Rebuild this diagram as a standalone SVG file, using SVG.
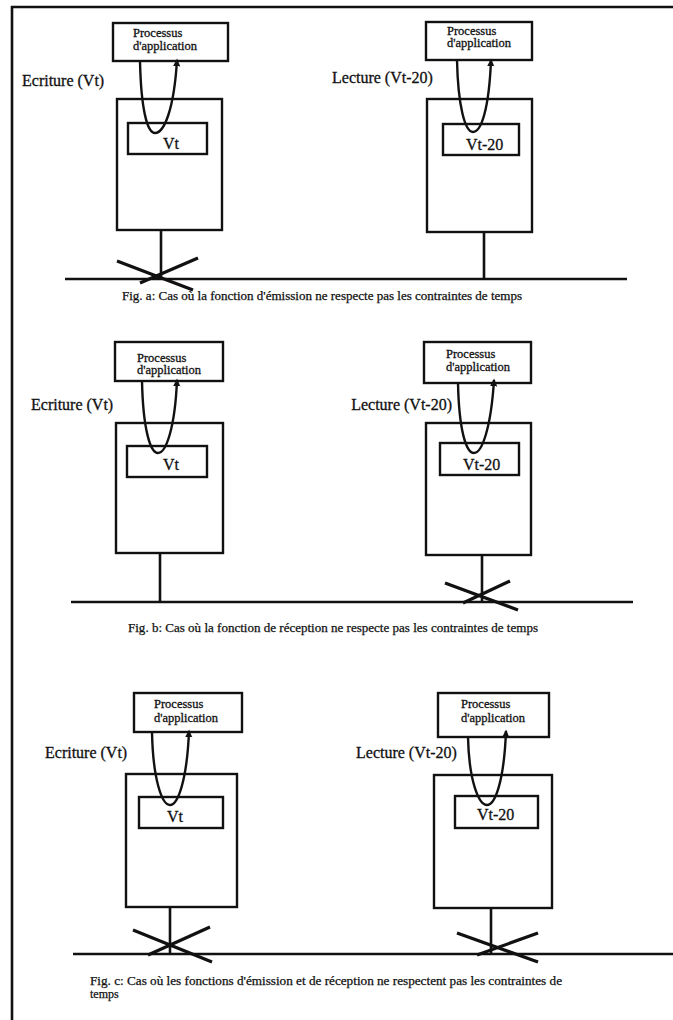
<svg xmlns="http://www.w3.org/2000/svg" width="673" height="1020" viewBox="0 0 673 1020">
<style>
.bx{fill:none;stroke:#111;stroke-width:2.4}
.ln{fill:none;stroke:#111;stroke-width:2.6}
.xl{fill:none;stroke:#111;stroke-width:3.2;stroke-linecap:butt}
.lp{fill:none;stroke:#111;stroke-width:2.4;marker-end:url(#ah)}
.t{font-family:"Liberation Serif","Times New Roman",serif;fill:#111;stroke:#111;stroke-width:0.3}
.p{font-size:12.5px}
.lb{font-size:16px}
.v{font-size:16px}
.cap{font-size:12px;stroke-width:0.25}
</style>
<defs>
<marker id="ah" viewBox="0 0 10 10" refX="8" refY="5" markerWidth="8" markerHeight="8" markerUnits="userSpaceOnUse" orient="auto">
<path d="M0,0.5 L10,5 L0,9.5 z" fill="#111"/>
</marker>
</defs>
<rect width="673" height="1020" fill="#fff"/>
<g id="border">
<line class="ln" x1="12" y1="6" x2="12" y2="1020"/>
<line class="ln" x1="11" y1="7" x2="673" y2="7"/>
</g>

<!-- Fig a -->
<g id="a-left-proc"><rect class="bx" x="113" y="23" width="115" height="38"/>
<text class="t p" x="133" y="37">Processus</text><text class="t p" x="133" y="50">d'application</text></g>
<text id="a-left-label" class="t lb" x="22" y="86">Ecriture (Vt)</text>
<g id="a-left-station"><rect class="bx" x="117" y="99" width="105" height="131"/>
<rect class="bx" x="128" y="123" width="79" height="31"/><text class="t v" x="163" y="149">Vt</text></g>

<g id="a-right-proc"><rect class="bx" x="426" y="22" width="106" height="38"/>
<text class="t p" x="447" y="35">Processus</text><text class="t p" x="447" y="47">d'application</text></g>
<text id="a-right-label" class="t lb" x="332" y="83">Lecture (Vt-20)</text>
<g id="a-right-station"><rect class="bx" x="427" y="99" width="105" height="133"/>
<rect class="bx" x="443" y="124" width="76" height="31"/><text class="t v" x="466" y="150">Vt-20</text></g>

<!-- Fig b -->
<g id="b-left-proc"><rect class="bx" x="115" y="342" width="108" height="39"/>
<text class="t p" x="137" y="362">Processus</text><text class="t p" x="137" y="374">d'application</text></g>
<text id="b-left-label" class="t lb" x="31" y="410">Ecriture (Vt)</text>
<g id="b-left-station"><rect class="bx" x="116" y="423" width="107" height="130"/>
<rect class="bx" x="127" y="446" width="80" height="31"/><text class="t v" x="163" y="470">Vt</text></g>

<g id="b-right-proc"><rect class="bx" x="424" y="342" width="107" height="41"/>
<text class="t p" x="446" y="358">Processus</text><text class="t p" x="446" y="371">d'application</text></g>
<text id="b-right-label" class="t lb" x="452" y="410" text-anchor="end">Lecture (Vt-20)</text>
<g id="b-right-station"><rect class="bx" x="426" y="423" width="105" height="132"/>
<rect class="bx" x="440" y="443" width="79" height="32"/><text class="t v" x="463" y="470">Vt-20</text></g>

<!-- Fig c -->
<g id="c-left-proc"><rect class="bx" x="134" y="693" width="108" height="39"/>
<text class="t p" x="154" y="708">Processus</text><text class="t p" x="154" y="722">d'application</text></g>
<text id="c-left-label" class="t lb" x="45" y="758">Ecriture (Vt)</text>
<g id="c-left-station"><rect class="bx" x="126" y="774" width="111" height="133"/>
<rect class="bx" x="139" y="797" width="84" height="31"/><text class="t v" x="167" y="822">Vt</text></g>

<g id="c-right-proc"><rect class="bx" x="438" y="693" width="111" height="44"/>
<text class="t p" x="461" y="708">Processus</text><text class="t p" x="461" y="722">d'application</text></g>
<text id="c-right-label" class="t lb" x="356" y="758">Lecture (Vt-20)</text>
<g id="c-right-station"><rect class="bx" x="434" y="775" width="118" height="133"/>
<rect class="bx" x="455" y="796" width="83" height="32"/><text class="t v" x="477" y="820">Vt-20</text></g>

<g id="connectors">
<!-- loops -->
<path class="lp" d="M140,61 C141,108 147,133 155,133 C164,133 174,110 177,60"/>
<path class="lp" d="M457,60 C458,106 465,132 473,132 C481,132 489,110 491,60"/>
<path class="lp" d="M142,381 C143,428 150,453 158,453 C166,453 175,428 177,380"/>
<path class="lp" d="M458,383 C459,430 466,453 474,453 C482,453 491,428 494,380"/>
<path class="lp" d="M152,732 C153,780 162,805 170,805 C178,805 187,780 189,731"/>
<path class="lp" d="M468,737 C469,782 479,805 487,805 C495,805 504,782 506,731"/>
<!-- stems -->
<line class="ln" x1="161" y1="230" x2="161" y2="279"/>
<line class="ln" x1="484" y1="232" x2="484" y2="279"/>
<line class="ln" x1="160" y1="553" x2="160" y2="602"/>
<line class="ln" x1="482" y1="555" x2="482" y2="602"/>
<line class="ln" x1="170" y1="907" x2="170" y2="954"/>
<line class="ln" x1="491" y1="908" x2="491" y2="954"/>
<!-- buses -->
<line class="ln" x1="65" y1="279" x2="627" y2="279"/>
<line class="ln" x1="71" y1="602" x2="633" y2="602"/>
<line class="ln" x1="73" y1="954" x2="673" y2="954"/>
<!-- crosses -->
<line class="xl" x1="117" y1="261" x2="193" y2="290"/>
<line class="xl" x1="198" y1="258" x2="140" y2="283"/>
<line class="xl" x1="445" y1="583" x2="518" y2="610"/>
<line class="xl" x1="510" y1="581" x2="463" y2="603"/>
<line class="xl" x1="133" y1="930" x2="212" y2="962"/>
<line class="xl" x1="210" y1="927" x2="148" y2="955"/>
<line class="xl" x1="457" y1="933" x2="538" y2="962"/>
<line class="xl" x1="538" y1="933" x2="477" y2="955"/>
</g>

<g id="captions">
<text class="t cap" x="122" y="300" textLength="400" lengthAdjust="spacingAndGlyphs">Fig. a: Cas où la fonction d'émission ne respecte pas les contraintes de temps</text>
<text class="t cap" x="128" y="632" textLength="410" lengthAdjust="spacingAndGlyphs">Fig. b: Cas où la fonction de réception ne respecte pas les contraintes de temps</text>
<text class="t cap" x="90" y="985" textLength="472" lengthAdjust="spacingAndGlyphs">Fig. c: Cas où les fonctions d'émission et de réception ne respectent pas les contraintes de</text>
<text class="t cap" x="90" y="998">temps</text>
</g>
</svg>
